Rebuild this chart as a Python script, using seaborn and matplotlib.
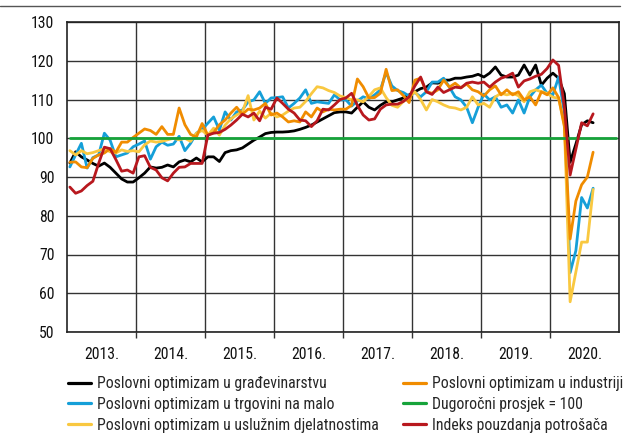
import matplotlib
matplotlib.use("Agg")
import matplotlib.pyplot as plt
from matplotlib import font_manager
from matplotlib.lines import Line2D
import seaborn as sns
import pandas as pd
import numpy as np

# ---------------- data (monthly, Jan 2013 - Aug 2020) ----------------
start_year = 2013
year_labels = ["2013.", "2014.", "2015.", "2016.", "2017.", "2018.", "2019.", "2020."]
y_ticks = [50, 60, 70, 80, 90, 100, 110, 120, 130]

series_names = [
    "Poslovni optimizam u građevinarstvu",
    "Poslovni optimizam u trgovini na malo",
    "Poslovni optimizam u uslužnim djelatnostima",
    "Poslovni optimizam u industriji",
    "Dugoročni prosjek = 100",
    "Indeks pouzdanja potrošača",
]

gradevinarstvo = [
    93.6, 96.5, 95.2, 94.4, 93.5, 92.8, 93.6, 92.5, 91.0, 89.5, 88.7, 88.7,
    89.8, 91.0, 92.6, 92.3, 92.5, 93.1, 92.6, 93.9, 94.4, 93.9, 94.9, 93.9,
    95.2, 95.2, 94.0, 96.3, 96.8, 97.0, 97.5, 98.5, 99.5, 100.3, 101.2, 101.5,
    101.6, 101.6, 101.7, 101.9, 102.3, 102.8, 103.4, 104.2, 105.0, 105.8, 106.6, 106.8,
    106.8, 106.5, 108.0, 109.4, 108.0, 107.3, 108.5, 109.4, 109.4, 109.9, 110.4, 111.2,
    112.0, 112.8, 113.2, 114.3, 114.2, 115.0, 115.0, 115.5, 115.5, 115.8, 116.0, 116.5,
    115.8, 116.8, 118.4, 116.3, 115.8, 115.8, 116.3, 118.9, 116.3, 118.9, 113.7, 115.5,
    116.8, 115.5, 111.5, 93.8, 98.5, 103.5, 104.5, 104.0]

trgovina = [
    92.6, 95.7, 98.7, 92.3, 95.0, 95.7, 101.3, 99.5, 95.2, 95.7, 96.2, 97.8,
    98.5, 99.3, 94.6, 97.8, 99.0, 98.2, 98.5, 100.5, 96.8, 98.7, 101.3, 102.3,
    103.9, 105.5, 102.1, 106.8, 104.7, 106.8, 107.3, 109.4, 109.9, 112.0, 109.0, 110.4,
    110.5, 110.7, 107.8, 109.0, 110.4, 112.5, 109.0, 109.4, 109.2, 109.0, 111.2, 109.9,
    109.9, 108.3, 109.6, 110.7, 110.2, 111.2, 112.5, 117.0, 113.5, 112.3, 111.8, 110.9,
    111.8, 110.7, 112.0, 114.5, 114.5, 115.5, 113.2, 110.7, 109.9, 108.0, 104.0, 108.0,
    111.4, 109.9, 110.7, 108.0, 108.6, 106.5, 109.9, 106.5, 110.7, 112.5, 113.7, 111.6,
    111.2, 115.8, 106.5, 65.3, 71.0, 84.7, 82.0, 87.1]

usluge = [
    96.8, 95.7, 96.8, 96.0, 96.3, 96.8, 97.3, 96.5, 96.2, 97.0, 96.6, 96.8,
    96.5, 98.3, 99.3, 99.0, 99.2, 99.6, 100.0, 99.6, 100.0, 99.2, 101.3, 102.0,
    100.8, 102.6, 100.8, 103.4, 105.0, 106.0, 106.8, 111.0, 104.7, 107.0, 105.2, 106.5,
    105.5, 106.0, 107.0, 107.8, 108.0, 109.5, 111.5, 113.3, 113.0, 112.3, 111.8, 110.9,
    110.5, 109.9, 109.9, 109.4, 110.8, 112.5, 113.0, 110.5, 108.5, 108.0, 109.5, 110.7,
    112.0, 110.0, 107.3, 110.0, 109.4, 108.6, 108.0, 107.8, 107.3, 108.0, 110.7, 108.6,
    109.0, 108.0, 110.7, 111.6, 111.2, 111.6, 111.0, 109.4, 112.0, 112.5, 112.0, 111.6,
    110.6, 110.3, 103.5, 57.8, 65.5, 73.2, 73.2, 86.8]

industrija = [
    93.8, 93.9, 92.6, 92.4, 94.8, 95.7, 96.2, 97.3, 96.4, 99.0, 99.0, 100.2,
    101.3, 102.4, 102.0, 101.0, 103.0, 101.0, 101.0, 107.8, 103.5, 101.0, 100.3, 103.8,
    100.8, 101.5, 103.5, 104.7, 106.5, 108.0, 106.2, 107.5, 107.3, 107.8, 109.0, 106.0,
    106.5, 105.5, 104.2, 104.5, 104.2, 106.8, 105.5, 107.8, 106.8, 107.5, 107.3, 107.5,
    107.5, 108.5, 115.3, 113.3, 110.4, 110.5, 111.6, 117.8, 112.3, 112.5, 111.0, 109.2,
    115.0, 115.5, 112.0, 111.6, 112.5, 115.0, 113.2, 114.2, 113.0, 114.0, 112.5, 112.0,
    110.9, 112.5, 113.5, 111.2, 112.5, 111.2, 112.0, 109.9, 110.7, 108.6, 112.0, 111.2,
    113.0, 110.5, 103.0, 74.0, 83.8, 88.0, 90.0, 96.4]

potrosaci = [
    87.4, 85.8, 86.4, 87.8, 88.9, 93.5, 97.7, 97.3, 94.5, 91.5, 91.8, 91.0,
    95.2, 95.5, 92.5, 91.8, 89.8, 89.0, 91.0, 92.5, 92.6, 93.5, 93.5, 93.5,
    100.8, 101.3, 101.5, 102.3, 103.4, 104.7, 106.2, 105.5, 106.5, 104.5, 108.0, 107.5,
    110.4, 109.0, 107.5, 106.5, 104.7, 104.5, 103.0, 104.5, 107.5, 107.3, 108.6, 110.0,
    110.4, 111.6, 108.5, 106.0, 104.7, 105.0, 107.5, 108.6, 108.8, 108.8, 109.5, 110.7,
    113.5, 115.8, 112.0, 111.3, 113.2, 111.8, 112.5, 113.2, 113.0, 114.2, 114.5, 114.2,
    114.5, 113.2, 114.5, 115.5, 116.0, 116.8, 113.2, 114.8, 115.3, 116.0, 116.5, 118.0,
    120.2, 118.8, 108.0, 90.5, 97.2, 104.0, 103.2, 106.3]

prosjek_value = 100.0
prosjek_months = 96  # Jan 2013 - Dec 2020

colors = ["#000000", "#159fd8", "#f9c840", "#f08c00", "#16a33a", "#b8181e"]

# ---------------- build table ----------------
def month_pos(n):
    return start_year + (np.arange(n) + 0.5) / 12.0

frames = []
for name, vals in zip(series_names,
                      [gradevinarstvo, trgovina, usluge, industrija, None, potrosaci]):
    if vals is None:
        vals = [prosjek_value] * prosjek_months
    frames.append(pd.DataFrame({"t": month_pos(len(vals)), "v": vals, "s": name}))
df = pd.concat(frames, ignore_index=True)

# ---------------- fonts ----------------
sns.set_theme(style="white")
avail = {f.name for f in font_manager.fontManager.ttflist}
fam = None
for cand in ["Liberation Sans Narrow", "Roboto Condensed", "Liberation Sans", "DejaVu Sans"]:
    if cand in avail:
        fam = cand
        break
plt.rcParams["font.family"] = [fam, "DejaVu Sans"]

FS = 11.3
W, H = 623, 446
fig = plt.figure(figsize=(W / 100, H / 100), dpi=100)
ax = fig.add_axes([67 / W, 1 - 332 / H, (619 - 67) / W, (332 - 22) / H])

sns.lineplot(data=df, x="t", y="v", hue="s", hue_order=series_names,
             palette=colors, linewidth=2.0, ax=ax, legend=True, estimator=None,
             sort=False)

ax.set_xlim(start_year, start_year + len(year_labels))
ax.set_ylim(y_ticks[0], y_ticks[-1])
ax.set_yticks(y_ticks)
ax.set_yticklabels([str(v) for v in y_ticks], fontsize=FS, color="#111111")

ax.set_xticks(np.arange(start_year + 1, start_year + len(year_labels)))
ax.set_xticklabels([])
ax.set_xticks(start_year + 0.5 + np.arange(len(year_labels)), minor=True)
ax.set_xticklabels(year_labels, minor=True, fontsize=FS, color="#111111")
ax.tick_params(axis="x", which="major", length=4, direction="out", color="#333333",
               width=1, bottom=True)
ax.tick_params(axis="x", which="minor", length=0, pad=11)
ax.tick_params(axis="y", length=0, pad=9)

ax.grid(True, which="major", color="#333333", linewidth=1.0)
ax.set_axisbelow(True)
for sp in ax.spines.values():
    sp.set_color("#222222")
    sp.set_linewidth(1.2)
ax.set_xlabel("")
ax.set_ylabel("")

sns.move_legend(ax, loc="upper left", bbox_to_anchor=(68 / W, 1 - 376 / H),
                bbox_transform=fig.transFigure, ncol=2, frameon=False, title=None,
                fontsize=FS, handlelength=1.45, handletextpad=0.4,
                columnspacing=1.55, labelspacing=0.38, borderaxespad=0, borderpad=0)
for ln in ax.get_legend().get_lines():
    ln.set_linewidth(2.3)

fig.add_artist(Line2D([0, 620 / W], [1 - 6 / H, 1 - 6 / H], color="#555555",
                      linewidth=1.0, transform=fig.transFigure))

fig.savefig("out.png", dpi=100)
